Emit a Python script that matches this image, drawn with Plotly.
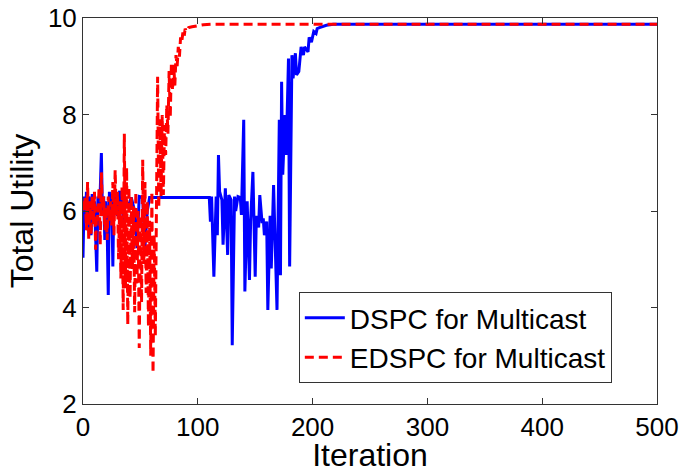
import plotly.graph_objects as go

# DSPC for Multicast (iteration, total utility)
dspc_iter = [0, 1, 2, 3, 4, 5, 6, 7, 8, 9, 10, 11, 12, 13, 14, 15, 16, 17, 18, 19,
             20, 21, 22, 23, 24, 25, 26, 27, 28, 29, 30, 31, 32, 33, 34, 35, 36,
             40, 42, 45, 47, 49, 52, 54, 56, 58, 110,
             111, 112, 114, 116, 117, 118, 119, 121, 122, 124, 126, 127, 129, 130,
             132, 133, 135, 137, 138, 140, 141, 143, 145, 146, 148, 150, 151, 153,
             154, 156, 157, 158, 160, 161, 163, 164, 166, 167, 169, 171, 172, 173,
             174, 176, 177, 179, 180, 182, 183, 185, 186, 188, 189, 190, 192, 193,
             196, 197, 199, 201, 203, 204, 206, 209, 212, 218, 500]
dspc_util = [5.03, 6.3, 5.8, 6.4, 5.6, 6.3, 6.2, 5.5, 6.35, 5.9, 6.2, 5.6, 4.74, 6.3, 6.0, 6.4, 7.2, 5.9, 6.3, 5.4,
             6.2, 5.7, 4.26, 6.4, 5.8, 6.3, 4.85, 6.4, 6.1, 6.4, 5.9, 6.3, 6.42, 6.0, 6.3, 5.8, 6.28,
             6.1, 6.28, 6.0, 5.23, 6.3, 6.28, 5.26, 6.0, 6.28, 6.28,
             5.78, 6.3, 4.64, 6.3, 5.5, 7.16, 6.4, 6.23, 5.3, 6.47, 5.09, 6.33, 6.23, 3.22,
             6.3, 6.0, 6.3, 6.28, 5.92, 7.89, 4.33, 6.2, 4.57, 5.78, 6.81, 4.64, 5.9, 5.66,
             6.33, 5.75, 5.85, 5.5, 5.78, 3.95, 5.9, 4.81, 6.54, 5.5, 3.95, 7.89, 4.67, 8.68,
             6.75, 7.99, 7.16, 9.16, 4.85, 9.23, 8.75, 9.27, 8.82, 8.89, 9.1, 9.4, 9.23, 9.4,
             9.3, 9.6, 9.5, 9.72, 9.68, 9.78, 9.8, 9.83, 9.85, 9.87, 9.87]

# EDSPC for Multicast
edspc_iter = list(range(0, 91)) + [92, 95, 100, 105, 112, 500]
edspc_util = [6.2, 6.0, 6.3, 5.6, 6.6, 5.4, 6.2, 5.5, 6.3, 5.7,
              6.4, 5.2, 6.1, 5.8, 6.5, 5.3, 6.8, 5.9, 6.3, 5.6,
              6.1, 5.4, 6.3, 5.8, 6.2, 5.7, 6.6, 5.5, 6.85, 5.9,
              6.4, 5.0, 6.2, 4.6, 6.5, 3.95, 7.6, 4.4, 6.9, 3.64,
              6.5, 4.2, 6.3, 4.8, 6.1, 3.9, 6.4, 4.5, 6.0, 3.16,
              5.9, 4.1, 7.06, 4.9, 6.6, 4.3, 6.2, 3.6, 5.8, 3.0,
              6.4, 2.64, 5.5, 3.4, 6.1, 8.78, 6.06, 7.9, 6.3, 7.99,
              6.33, 7.78, 7.16, 8.2, 7.6, 8.9, 7.93, 9.07, 8.5, 9.03,
              8.6, 9.23, 9.0, 9.4, 9.2, 9.6, 9.5, 9.7, 9.6, 9.78,
              9.72, 9.8, 9.82, 9.84, 9.86, 9.87, 9.87]

x_ticks = [0, 100, 200, 300, 400, 500]
y_ticks = [2, 4, 6, 8, 10]

FONT = "Liberation Sans, Arial, sans-serif"

fig = go.Figure()
fig.add_trace(go.Scatter(x=dspc_iter, y=dspc_util, mode="lines",
                         name="DSPC for Multicast",
                         line=dict(color="#0000ff", width=3)))
fig.add_trace(go.Scatter(x=edspc_iter, y=edspc_util, mode="lines",
                         name="EDSPC for Multicast",
                         line=dict(color="#ff0000", width=3, dash="9px,5px")))

axis_common = dict(showgrid=False, zeroline=False, showline=True, linecolor="#333333",
                   linewidth=1, mirror="ticks", ticks="inside", ticklen=6,
                   tickcolor="#333333", automargin=False, ticklabeloverflow="allow",
                   tickfont=dict(family=FONT, size=26, color="black"))

fig.update_xaxes(range=[0, 500], tickvals=x_ticks, ticktext=[str(v) for v in x_ticks],
                 title=dict(text="Iteration", font=dict(family=FONT, size=32, color="black"),
                            standoff=0),
                 **axis_common)
fig.update_yaxes(range=[2, 10], tickvals=y_ticks, ticktext=[str(v) for v in y_ticks],
                 title=dict(text="Total Utility", font=dict(family=FONT, size=32, color="black"),
                            standoff=4),
                 **axis_common)

fig.update_layout(
    width=685, height=473,
    margin=dict(l=83, r=28, t=18, b=69),
    paper_bgcolor="white", plot_bgcolor="white",
    showlegend=True,
    legend=dict(x=0.376, y=0.29, xanchor="left", yanchor="top",
                bgcolor="white", bordercolor="#333333", borderwidth=1,
                font=dict(family=FONT, size=28, color="black"),
                itemwidth=40),
)

fig.write_html("out.html",
               config={"displayModeBar": False},
               post_script="document.body.style.margin='0';document.body.style.overflow='hidden';")
